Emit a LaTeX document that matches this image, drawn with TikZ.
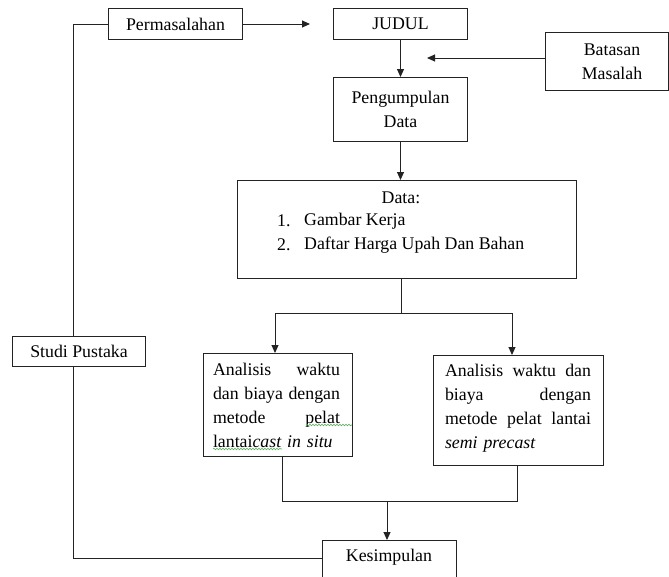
\documentclass[tikz,border=0pt]{standalone}
\usepackage{fontspec}
\setmainfont{Liberation Serif}
\usetikzlibrary{arrows.meta,decorations.pathmorphing}
\definecolor{spellgreen}{RGB}{90,175,90}
\definecolor{linec}{RGB}{35,35,35}
\newcommand\jline[2]{\leavevmode\hbox to #1{#2}}
\tikzset{
  every node/.style={font=\fontsize{17.8}{24}\selectfont, inner sep=0pt},
  box/.style={draw=linec, line width=1pt, anchor=north west},
  conn/.style={draw=linec, line width=1pt},
  arr/.style={conn, -{Triangle[length=8pt,width=7pt]}},
  wavy/.style={spellgreen, line width=0.6pt, decorate, decoration={snake, segment length=3pt, amplitude=0.8pt}}
}
\begin{document}
\begin{tikzpicture}[x=1pt,y=-1pt]
\useasboundingbox (0,0) rectangle (669,576);
\clip (0,0) rectangle (669,576);
% boxes
\node[box, minimum width=134, minimum height=31] (perm) at (108,8) {};
\node at (perm.center) {Permasalahan};
\node[box, minimum width=134, minimum height=31] (judul) at (333,8) {};
\node at (judul.center) {JUDUL};
\node[box, minimum width=134, minimum height=64] (peng) at (333,77) {};
\node[align=center] at (peng.center) {Pengumpulan\\Data};
\node[box, minimum width=123, minimum height=58] (bat) at (545,32) {};
\node[align=center] at (612,62) {Batasan\\Masalah};
\node[box, minimum width=339, minimum height=98] (data) at (237,180) {};
\node (dt) at (401,198) {Data:};
\node[anchor=west] (n1) at (277,221) {1.};
\node[anchor=west] (g1) at (304,221) {Gambar Kerja};
\node[anchor=west] (n2) at (277,245) {2.};
\node[anchor=west] (g2) at (304,245) {Daftar Harga Upah Dan Bahan};
\node[box, minimum width=133, minimum height=30] (studi) at (12,336) {};
\node at (studi.center) {Studi Pustaka};
\node[box, minimum width=149, minimum height=103] (an1) at (203,353) {};
\node[text width=127pt, align=left] (t1) at (276.5,405.5) {%
\jline{127pt}{Analisis\hfill waktu}\\
\jline{127pt}{dan\hfill biaya\hfill dengan}\\
\jline{127pt}{metode\hfill pelat}\\
lantai\textit{cast in situ}};
\node[box, minimum width=170, minimum height=110] (an2) at (433,355) {};
\node[text width=146pt, align=left] (t2) at (518,408) {%
\jline{146pt}{Analisis\hfill waktu\hfill dan}\\
\jline{146pt}{biaya\hfill dengan}\\
\jline{146pt}{metode\hfill pelat\hfill lantai}\\
\textit{semi precast}};
\node[box, minimum width=134, minimum height=50] (kes) at (322,540) {};
\node at (389,557) {Kesimpulan};
% spell-check underlines
\draw[wavy] (306,425) -- (352,425);
\draw[wavy] (213,449) -- (282,449);
% coordinates
\coordinate (permend) at (310,23);
\coordinate (batend) at (427,58);
\coordinate (lx) at (73,0);
\coordinate (bl) at (73,558);
\coordinate (split) at (401,313);
\coordinate (sl) at (275,313);
\coordinate (sr) at (512,313);
\coordinate (jl) at (282,501);
\coordinate (jr) at (517,501);
\coordinate (jm) at (387,501);
% connectors
\draw[arr] (perm.east) -- (perm.east -| permend);
\draw[arr] (judul.south) -- (peng.north);
\draw[arr] (bat.west |- batend) -- (batend);
\draw[arr] (peng.south) -- (peng.south |- data.north);
\draw[conn] (perm.west) -| (lx |- studi.north);
\draw[conn] (lx |- studi.south) -- (bl) -- (kes.west |- bl);
\draw[conn] (split |- data.south) -- (split);
\draw[conn] (sl) -- (sr);
\draw[arr] (sl) -- (sl |- an1.north);
\draw[arr] (sr) -- (sr |- an2.north);
\draw[conn] (jl |- an1.south) -- (jl) -- (jr) -- (jr |- an2.south);
\draw[arr] (jm) -- (jm |- kes.north);
\end{tikzpicture}
\end{document}
